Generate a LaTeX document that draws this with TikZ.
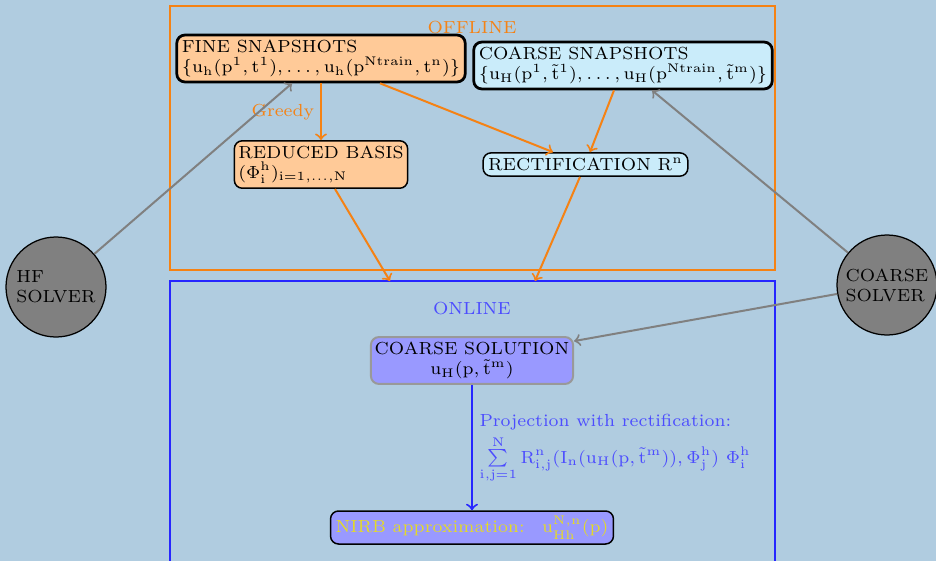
\documentclass[tikz,border=0pt]{standalone}
\usepackage{exscale}
\usetikzlibrary{calc}
\definecolor{bgc}{RGB}{176,204,224}
\definecolor{peach}{RGB}{255,202,152}
\definecolor{lcyan}{RGB}{202,236,250}
\definecolor{offc}{RGB}{245,130,20}
\definecolor{nirbtxt}{RGB}{228,218,40}
\begin{document}
\begin{tikzpicture}[x=0.4pt,y=-0.4pt,font=\scriptsize,
  boxa/.style={draw=black,rounded corners=3.2pt,inner sep=2pt,align=left,line width=0.6pt},
  bigbox/.style={boxa,line width=1.1pt},
  solver/.style={circle,draw=black,fill=gray,minimum size=40pt,inner sep=0pt,align=left,line width=0.5pt},
  oarrow/.style={->,draw=offc,line width=0.8pt},
  garrow/.style={->,draw=gray,line width=0.8pt},
  barrow/.style={->,draw=blue!85,line width=0.8pt}]
\useasboundingbox (0,0) rectangle (936,561);
\fill[bgc] (0,0) rectangle (936,561);
% frames
\draw[offc,line width=0.45pt] (170,6) rectangle (775,270);
\draw[blue!85,line width=0.45pt] (170,281) rectangle (775,600);
\node[text=offc] (offl) at (472,28) {OFFLINE};
\node[text=blue!70] (onl) at (472,309) {ONLINE};
\coordinate (ontop) at (472,281);
% offline nodes
\node[bigbox,fill=peach] (fine) at (321,58.5) {FINE SNAPSHOTS\\$\{\mathrm{u_h(p^1,t^1),\ldots,u_h(p^{Ntrain},t^n)}\}$};
\node[bigbox,fill=lcyan] (coarse) at (623,65.5) {COARSE SNAPSHOTS\\$\{\mathrm{u_H(p^1,\tilde{t}^1),\ldots,u_H(p^{Ntrain},\tilde{t}^m)}\}$};
\node[boxa,fill=peach,inner xsep=1.6pt] (reduced) at (321,164.5) {REDUCED BASIS\\$(\Phi^{\mathrm{h}}_{\mathrm{i}})_{\mathrm{i=1,\ldots,N}}$};
\node[boxa,fill=lcyan] (rect) at (585.5,164.5) {RECTIFICATION $\mathrm{R^n}$};
% solvers
\node[solver] (hf) at (56,287) {HF\\SOLVER};
\node[solver] (cs) at (887,285) {COARSE\\SOLVER};
% online nodes
\node[boxa,draw=gray!80,fill=blue!40,align=center,line width=0.8pt,inner xsep=1.5pt] (csol) at (472,360.5) {COARSE SOLUTION\\$\mathrm{u_H(p,\tilde{t}^m)}$};
\node[boxa,fill=blue!40,text=nirbtxt,align=center,inner ysep=2pt,inner xsep=2pt] (nirb) at (472,527.5) {NIRB approximation:\quad $\mathrm{u^{N,n}_{Hh}(p)}$};
% offline arrows
\draw[oarrow] (fine.south) -- (reduced.north) node[midway,left=-1pt,text=offc] (greedy) {Greedy};
\draw[oarrow] ($(fine.south)+(59,0)$) -- ($(rect.north)+(-32.5,0)$);
\draw[oarrow] ($(coarse.south)+(-9,0)$) -- ($(rect.north)+(4.5,0)$);
\draw[oarrow] ($(reduced.south)+(14,0)$) -- ($(ontop)+(-82,0)$);
\draw[oarrow] ($(rect.south)+(-5.5,0)$) -- ($(ontop)+(63,0)$);
% solver arrows
\draw[garrow] (hf) -- ($(fine.south)+(-29,0)$);
\draw[garrow] (cs) -- ($(coarse.south)+(29,0)$);
\draw[garrow] (cs) -- ($(csol.north east)+(0,5)$);
% online arrow
\draw[barrow] (csol.south) -- (nirb.north);
\node[text=blue!70,align=left,anchor=north west,inner sep=0pt] (proj) at (479,414) {Projection with rectification:\\[1pt] $\sum\limits_{\mathrm{i,j=1}}^{\mathrm{N}}\mathrm{R^n_{i,j}(I_n(u_H(p,\tilde{t}^m)),\Phi^h_j)\ \Phi^h_i}$};
\end{tikzpicture}
\end{document}
